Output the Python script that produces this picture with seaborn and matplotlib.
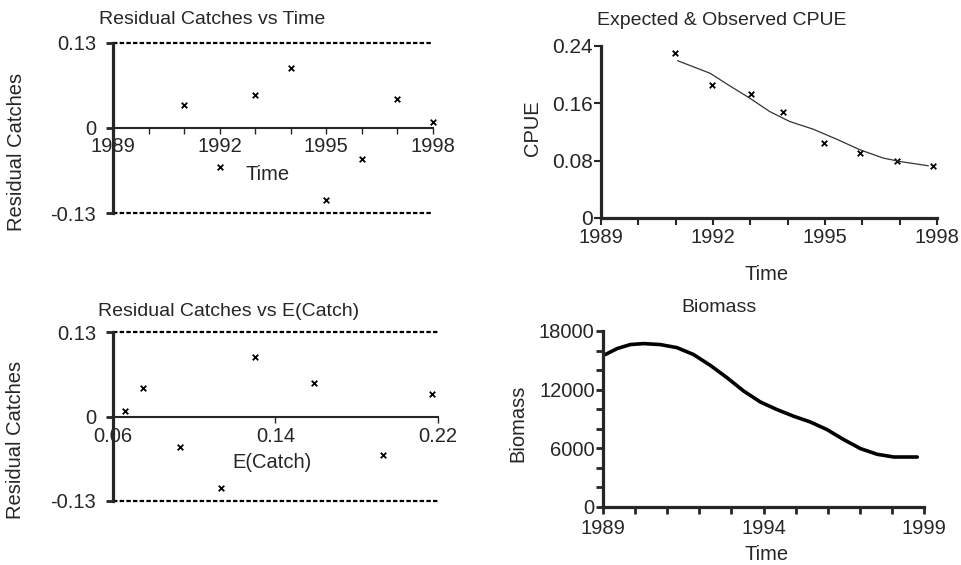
import numpy as np
import pandas as pd
import matplotlib
matplotlib.use('Agg')
import matplotlib.pyplot as plt
import seaborn as sns
from matplotlib.ticker import MultipleLocator

# dados
anos = [1991, 1992, 1993, 1994, 1995, 1996, 1997, 1998]
residuos = [0.035, -0.059, 0.051, 0.092, -0.110, -0.047, 0.044, 0.009]
e_catch = [0.217, 0.193, 0.159, 0.130, 0.113, 0.093, 0.075, 0.066]

cpue_obs = [0.230, 0.186, 0.173, 0.148, 0.104, 0.091, 0.080, 0.073]
anos_cpue = [1990.97, 1991.96, 1993.01, 1993.88, 1994.98, 1995.94, 1996.93, 1997.89]

t_esperado = [1991.05, 1991.92, 1992.41, 1992.99, 1993.52, 1994.06, 1994.68,
              1995.31, 1995.94, 1996.56, 1997.01, 1997.77]
cpue_esperado = [0.2195, 0.202, 0.1857, 0.167, 0.1485, 0.1345, 0.124,
                 0.110, 0.0951, 0.0836, 0.0788, 0.0728]

t_biomassa = [1989.07, 1989.44, 1989.85, 1990.26, 1990.78, 1991.30, 1991.82,
              1992.34, 1992.86, 1993.38, 1993.90, 1994.42, 1994.94, 1995.46,
              1995.98, 1996.50, 1997.02, 1997.54, 1998.06, 1998.79]
biomassa = [15590, 16200, 16610, 16710, 16610, 16300, 15590,
            14490, 13230, 11860, 10740, 9960, 9280, 8690,
            7910, 6890, 5970, 5390, 5110, 5110]

sns.set_style('ticks')
plt.rcParams['font.family'] = ['Liberation Sans', 'DejaVu Sans']
plt.rcParams['font.size'] = 14.5

fig = plt.figure(figsize=(9.61, 5.65), dpi=100)

ax1 = fig.add_axes([0.1176, 0.623, 0.333, 0.301])
ax2 = fig.add_axes([0.1176, 0.1133, 0.338, 0.299])
ax3 = fig.add_axes([0.6254, 0.6142, 0.3496, 0.3044])
ax4 = fig.add_axes([0.6275, 0.1027, 0.334, 0.3115])


def estilo_residuo(ax, pad_x):
    ax.set_ylim(-0.13, 0.13)
    for s in ['top', 'right']:
        ax.spines[s].set_visible(False)
    ax.spines['left'].set_linewidth(2.3)
    ax.spines['bottom'].set_position(('data', 0))
    ax.spines['bottom'].set_linewidth(1.5)
    for v in [0.13, -0.13]:
        ax.axhline(v, color='black', lw=1.6, ls=(0, (2, 1)), clip_on=False)
    ax.set_yticks([-0.13, 0, 0.13])
    ax.set_yticklabels(['-0.13', '0', '0.13'])
    ax.tick_params(axis='y', length=5, width=2, pad=7)
    ax.tick_params(axis='x', which='both', length=4, width=1, pad=pad_x)


# Primeiro grafico: residuos vs tempo
sns.scatterplot(x=anos, y=residuos, ax=ax1, marker='x', s=16, color='black',
                linewidth=1.3, clip_on=False)
ax1.set_xlim(1989, 1998)
estilo_residuo(ax1, 2.5)
ax1.set_xticks([1989, 1992, 1995, 1998])
ax1.xaxis.set_minor_locator(MultipleLocator(1))
ax1.set_xlabel('Time')
ax1.xaxis.set_label_coords(0.484, 0.282)
ax1.set_ylabel('Residual Catches')
ax1.yaxis.set_label_coords(-0.272, 0.36)
ax1.text(0.309, 1.135, 'Residual Catches vs Time', transform=ax1.transAxes,
         ha='center', va='center', fontsize=14)

# Segundo grafico: residuos vs E(Catch)
sns.scatterplot(x=e_catch, y=residuos, ax=ax2, marker='x', s=16, color='black',
                linewidth=1.3, clip_on=False)
ax2.set_xlim(0.06, 0.22)
estilo_residuo(ax2, 3.5)
ax2.set_xticks([0.06, 0.14, 0.22])
ax2.set_xticklabels(['0.06', '0.14', '0.22'])
ax2.set_xlabel('E(Catch)')
ax2.xaxis.set_label_coords(0.49, 0.284)
ax2.set_ylabel('Residual Catches')
ax2.yaxis.set_label_coords(-0.271, 0.361)
ax2.text(0.357, 1.124, 'Residual Catches vs E(Catch)', transform=ax2.transAxes,
         ha='center', va='center', fontsize=14)

# Terceiro grafico: CPUE
sns.lineplot(x=t_esperado, y=cpue_esperado, ax=ax3, color='#333333', lw=0.9)
sns.scatterplot(x=anos_cpue, y=cpue_obs, ax=ax3, marker='x', s=16, color='black',
                linewidth=1.3, clip_on=False)
ax3.set_xlim(1989, 1998)
ax3.set_ylim(0, 0.24)
for s in ['top', 'right']:
    ax3.spines[s].set_visible(False)
ax3.spines['left'].set_linewidth(2.3)
ax3.spines['bottom'].set_linewidth(2.3)
ax3.set_xticks([1989, 1992, 1995, 1998])
ax3.xaxis.set_minor_locator(MultipleLocator(1))
ax3.set_yticks([0, 0.08, 0.16, 0.24])
ax3.set_yticklabels(['0', '0.08', '0.16', '0.24'])
ax3.tick_params(axis='both', which='both', length=5, width=1.5, pad=1)
ax3.tick_params(axis='x', which='both', pad=2.5)
ax3.tick_params(axis='y', labelsize=15)
ax3.set_xlabel('Time')
ax3.xaxis.set_label_coords(0.494, -0.273)
ax3.set_ylabel('CPUE')
ax3.yaxis.set_label_coords(-0.176, 0.523)
ax3.text(0.36, 1.151, 'Expected & Observed CPUE', transform=ax3.transAxes,
         ha='center', va='center', fontsize=14)

# Quarto grafico: biomassa
sns.lineplot(x=t_biomassa, y=biomassa, ax=ax4, color='black', lw=2.6)
ax4.set_xlim(1989, 1999)
ax4.set_ylim(0, 18000)
for s in ['top', 'right']:
    ax4.spines[s].set_visible(False)
ax4.spines['left'].set_linewidth(2.3)
ax4.spines['bottom'].set_linewidth(2.3)
ax4.set_xticks([1989, 1994, 1999])
ax4.xaxis.set_minor_locator(MultipleLocator(1))
ax4.set_yticks([0, 6000, 12000, 18000])
ax4.yaxis.set_minor_locator(MultipleLocator(2000))
ax4.tick_params(axis='both', which='both', length=5, width=2, pad=1)
ax4.tick_params(axis='x', which='both', pad=4)
ax4.set_xlabel('Time')
ax4.xaxis.set_label_coords(0.51, -0.216)
ax4.set_ylabel('Biomass')
ax4.yaxis.set_label_coords(-0.237, 0.477)
ax4.text(0.361, 1.131, 'Biomass', transform=ax4.transAxes,
         ha='center', va='center', fontsize=14)

fig.savefig('out.png', dpi=100)
